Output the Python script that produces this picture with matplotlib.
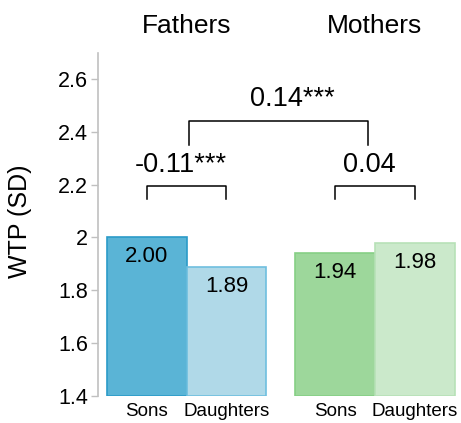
import numpy as np
from matplotlib import pyplot as plt

plt.rcParams['font.family'] = ['Liberation Sans', 'DejaVu Sans']

groups = ['Fathers', 'Mothers']
children = ['Sons', 'Daughters', 'Sons', 'Daughters']
wtp = [2.00, 1.89, 1.94, 1.98]
bar_labels = ['2.00', '1.89', '1.94', '1.98']
diff_fathers = '-0.11***'
diff_mothers = '0.04'
diff_parents = '0.14***'

fill = ['#5ab4d6', '#b0d9e8', '#9dd79b', '#cbe9cb']
edge = ['#2b9bc8', '#6fbfdf', '#86cf85', '#b7e1b7']

gap = 0.3625
x = np.array([0, 1, 2 + gap, 3 + gap])

fig = plt.figure(figsize=(4.61, 4.23), dpi=100)
ax = fig.add_axes([98 / 461, 1 - 396 / 423, 359 / 461, 343 / 423])

ax.bar(x, np.array(wtp) - 1.4, bottom=1.4, width=1.0, color=fill,
       edgecolor=edge, linewidth=1.2)

for xi, v, lab in zip(x, wtp, bar_labels):
  ax.annotate(lab, (xi, v), xytext=(0, -6.5), textcoords='offset points',
              ha='center', va='top', fontsize=16)

ax.set_xlim(-0.6125, x[-1] + 0.53)
ax.set_ylim(1.4, 2.698)
ax.set_yticks([1.4, 1.6, 1.8, 2.0, 2.2, 2.4, 2.6])
ax.set_yticklabels(['1.4', '1.6', '1.8', '2', '2.2', '2.4', '2.6'])
ax.set_xticks(x)
ax.set_xticklabels(children)
ax.tick_params(axis='x', length=0, pad=5, labelsize=13.5)
ax.tick_params(axis='y', length=5, width=1, color='#c0c0c0', pad=2,
               labelsize=15.5)

for s in ['top', 'right', 'bottom']:
  ax.spines[s].set_visible(False)
ax.spines['left'].set_color('#c0c0c0')
ax.spines['left'].set_linewidth(1.2)


def bracket(x0, x1, ytop, ybot):
  ax.plot([x0, x0, x1, x1], [ybot, ytop, ytop, ybot], color='black',
          linewidth=1.1, clip_on=False)


bracket(x[0], x[1], 2.194, 2.147)
bracket(x[2], x[3], 2.194, 2.147)
bracket(0.53, 2.77, 2.439, 2.351)

ax.text(0.43, 2.225, diff_fathers, ha='center', va='bottom', fontsize=19.5)
ax.text(2.79, 2.225, diff_mothers, ha='center', va='bottom', fontsize=19.5)
ax.text(1.83, 2.475, diff_parents, ha='center', va='bottom', fontsize=19.5)

fig.text(187 / 461, 1 - 33 / 423, groups[0], ha='center', va='baseline',
         fontsize=19)
fig.text(374 / 461, 1 - 33 / 423, groups[1], ha='center', va='baseline',
         fontsize=19)
fig.text(20 / 461, 1 - 221 / 423, 'WTP (SD)', rotation=90, ha='center',
         va='center', fontsize=18)

fig.savefig('out.png', dpi=100)
